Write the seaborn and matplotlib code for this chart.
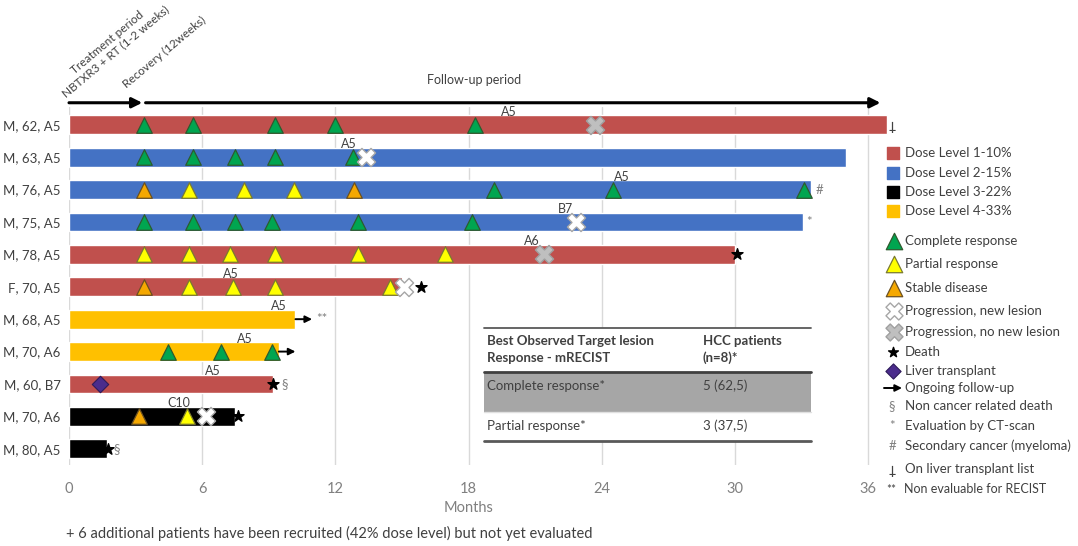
import matplotlib
matplotlib.use("Agg")
import matplotlib.pyplot as plt
import matplotlib.patches as mpatches
import numpy as np
import pandas as pd
import seaborn as sns

# ---------------- data ----------------
patients = ["M, 62, A5", "M, 63, A5", "M, 76, A5", "M, 75, A5", "M, 78, A5", "F, 70, A5",
            "M, 68, A5", "M, 70, A6", "M, 60, B7", "M, 70, A6", "M, 80, A5"]
dose_level = ["Dose Level 1-10%", "Dose Level 2-15%", "Dose Level 2-15%", "Dose Level 2-15%",
              "Dose Level 1-10%", "Dose Level 1-10%", "Dose Level 4-33%", "Dose Level 4-33%",
              "Dose Level 1-10%", "Dose Level 3-22%", "Dose Level 3-22%"]
follow_up_months = [36.85, 35.0, 33.4, 33.05, 30.0, 15.0, 10.2, 9.45, 9.2, 7.5, 1.7]

complete_response = [[3.4, 5.6, 9.3, 12.0, 18.3], [3.4, 5.6, 7.5, 9.3, 12.8], [19.15, 24.5, 33.1],
                     [3.4, 5.6, 7.5, 9.15, 13.0, 18.15], [], [], [], [4.45, 6.85, 9.15], [], [], []]
partial_response = [[], [], [5.4, 7.9, 10.15], [], [3.4, 5.4, 7.25, 9.3, 13.0, 16.95],
                    [5.4, 7.4, 9.3, 14.45], [], [], [], [5.3], []]
stable_disease = [[], [], [3.4, 12.85], [], [], [3.4], [], [], [], [3.15], []]
progression_new = [[], [13.4], [], [22.85], [], [15.1], [], [], [], [6.15], []]
progression_no_new = [[23.7], [], [], [], [21.4], [], [], [], [], [], []]

death_rows = [4, 5, 8, 9, 10]
death_months = [30.1, 15.85, 9.2, 7.6, 1.75]
transplant_rows = [8]
transplant_months = [1.4]
ongoing_rows = [6, 7]

note_rows = [0, 2, 3, 6, 8, 10]
note_months = [37.1, 33.8, 33.35, 11.4, 9.7, 2.15]
note_symbols = ["\u2020", "#", "*", "**", "\u00a7", "\u00a7"]

stage_rows = [0, 1, 2, 3, 4, 5, 6, 7, 8, 9]
stage_months = [19.8, 12.6, 24.9, 22.35, 20.85, 7.3, 9.43, 7.9, 6.5, 4.93]
stage_labels = ["A5", "A5", "A5", "B7", "A6", "A5", "A5", "A5", "A5", "C10"]

month_ticks = [0, 6, 12, 18, 24, 30, 36]

table_header = ["Best Observed Target lesion\nResponse - mRECIST", "HCC patients\n(n=8)*"]
table_rows = [["Complete response*", "5 (62,5)"], ["Partial response*", "3 (37,5)"]]

dose_palette = {"Dose Level 1-10%": "#C0504D", "Dose Level 2-15%": "#4472C4",
                "Dose Level 3-22%": "#000000", "Dose Level 4-33%": "#FFC000"}

# ---------------- styling ----------------
sns.set_style("white")
plt.rcParams["font.family"] = ["Lato", "DejaVu Sans"]
TXT = "#404040"
GREY = "#808080"

fig = plt.figure(figsize=(10.78, 5.46), dpi=100)
ax = fig.add_axes([0.064, 0.1484, 0.7723, 0.6557])

df = pd.DataFrame({"row": list(range(len(patients))), "months": follow_up_months, "dose": dose_level})
sns.barplot(data=df, x="months", y="row", hue="dose", orient="h", palette=dose_palette,
            dodge=False, width=0.58, saturation=1, legend=False, ax=ax, zorder=2)

ax.set_xlim(0, 37.5)
ax.set_ylim(10.5, -0.55)
ax.set_xticks(month_ticks)
ax.set_xticklabels([str(t) for t in month_ticks], color=GREY, fontsize=10.5)
ax.set_yticks(range(len(patients)))
ax.set_yticklabels(patients, color=TXT, fontsize=9.5)
ax.tick_params(axis="x", length=0, pad=12)
ax.tick_params(axis="y", length=0, pad=6)
for s in ax.spines.values():
    s.set_visible(False)
ax.grid(axis="x", color="#D9D9D9", lw=1)
ax.grid(axis="y", visible=False)
ax.set_axisbelow(True)
ax.set_xlabel("Months", color=GREY, fontsize=10.5)
ax.xaxis.set_label_coords(18 / 37.5, -0.1)
ax.set_ylabel("")


def points(series):
    xs, ys = [], []
    for r, vals in enumerate(series):
        for v in vals:
            xs.append(v)
            ys.append(r)
    return xs, ys


tri_kw = dict(marker="^", s=125, linewidths=0.9, zorder=4)
x, y = points(complete_response)
ax.scatter(x, y, c="#00A550", edgecolors="#2E5A2E", **tri_kw)
x, y = points(partial_response)
ax.scatter(x, y, c="#FFFF00", edgecolors="#7A7A30", **tri_kw)
x, y = points(stable_disease)
ax.scatter(x, y, c="#F5A800", edgecolors="#6B5020", **tri_kw)
x, y = points(progression_new)
ax.scatter(x, y, marker="X", s=170, c="white", edgecolors="#A6A6A6", linewidths=1, zorder=5)
x, y = points(progression_no_new)
ax.scatter(x, y, marker="X", s=170, c="#BFBFBF", edgecolors="#A0A0A0", linewidths=1, zorder=5)
ax.scatter(death_months, death_rows, marker="*", s=70, c="black", zorder=6)
ax.scatter(transplant_months, transplant_rows, marker="D", s=70, c="#4B2C8C",
           edgecolors="#2E1A5A", linewidths=0.8, zorder=5)

for r in ongoing_rows:
    end = follow_up_months[r]
    ax.annotate("", xy=(end + 0.75, r), xytext=(end, r),
                arrowprops=dict(arrowstyle="-|>", color="black", lw=1.4, mutation_scale=10,
                                shrinkA=0, shrinkB=0), zorder=6)

for r, m, sym in zip(note_rows, note_months, note_symbols):
    if sym == "\u2020":
        ax.text(m, r, sym, rotation=180, ha="center", va="center", fontsize=10, color=TXT,
                family=["DejaVu Sans"], clip_on=False)
    else:
        ax.text(m, r, sym, ha="center", va="center", fontsize=9.5, color=GREY, clip_on=False)

for r, m, lab in zip(stage_rows, stage_months, stage_labels):
    ax.text(m, r - 0.4, lab, ha="center", va="center", fontsize=9, color=TXT, zorder=7)

# period arrows above the bars
arrow_y = -0.68
ax.annotate("", xy=(3.3, arrow_y), xytext=(0, arrow_y), annotation_clip=False,
            arrowprops=dict(arrowstyle="-|>", color="black", lw=2.2, mutation_scale=15,
                            shrinkA=0, shrinkB=0))
ax.annotate("", xy=(36.55, arrow_y), xytext=(3.45, arrow_y), annotation_clip=False,
            arrowprops=dict(arrowstyle="-|>", color="black", lw=2.2, mutation_scale=15,
                            shrinkA=0, shrinkB=0))
ax.text(18.25, -1.39, "Follow-up period", ha="center", va="center", fontsize=9, color=TXT,
        clip_on=False)
period_kw = dict(rotation=40, rotation_mode="anchor", ha="center", va="bottom",
                 fontsize=8.5, color=TXT, clip_on=False)
ax.text(1.91, -2.41, "Treatment period", **period_kw)
ax.text(2.25, -2.12, "NBTXR3 + RT (1-2 weeks)", **period_kw)
ax.text(2.65, -1.08, "Recovery (12weeks)", rotation=40, rotation_mode="anchor",
        ha="left", va="bottom", fontsize=8.5, color=TXT, clip_on=False)

# response summary table
tx0, tx1 = 18.7, 33.4
ty = [6.27, 7.63, 8.87, 9.76]
ax.add_patch(mpatches.Rectangle((tx0, ty[0]), tx1 - tx0, ty[3] - ty[0], facecolor="white",
                                edgecolor="none", zorder=3))
ax.add_patch(mpatches.Rectangle((tx0, ty[1]), tx1 - tx0, ty[2] - ty[1], facecolor="#A6A6A6",
                                edgecolor="none", zorder=3.1))
ax.plot([tx0, tx1], [ty[0], ty[0]], color="#595959", lw=1.3, zorder=3.2)
ax.plot([tx0, tx1], [ty[1], ty[1]], color="#404040", lw=2.0, zorder=3.2)
ax.plot([tx0, tx1], [ty[2], ty[2]], color="#E0E0E0", lw=1.0, zorder=3.2)
ax.plot([tx0, tx1], [ty[3], ty[3]], color="#595959", lw=2.0, zorder=3.2)
col_x = [18.85, 28.55]
for cx, h in zip(col_x, table_header):
    ax.text(cx, 6.93, h, ha="left", va="center", fontsize=9.5, fontweight="bold", color=TXT,
            zorder=4, linespacing=1.45)
for (c1, c2), yy in zip(table_rows, [8.06, 9.29]):
    ax.text(col_x[0], yy, c1, ha="left", va="center", fontsize=9.5, color=TXT, zorder=4)
    ax.text(col_x[1], yy, c2, ha="left", va="center", fontsize=9.5, color=TXT, zorder=4)

# footnote
fig.text(66 / 1078, 1 - 533 / 546,
         "+ 6 additional patients have been recruited (42% dose level) but not yet evaluated",
         ha="left", va="center", fontsize=10.5, color=TXT)

# legend panel, laid out in pixel units
lax = fig.add_axes([0, 0, 1, 1], facecolor="none")
lax.set_xlim(0, 1078)
lax.set_ylim(546, 0)
lax.axis("off")
lx, tx = 893, 905
dose_names = list(dose_palette.keys())
for name, yy in zip(dose_names, [153, 173, 192, 211]):
    lax.scatter([lx], [yy], marker="s", s=80, c=dose_palette[name])
    lax.text(tx, yy, name, ha="left", va="center", fontsize=9.5, color=TXT)
leg_tri = [("#00A550", "#2E5A2E", "Complete response", 241),
           ("#FFFF00", "#7A7A30", "Partial response", 264),
           ("#F5A800", "#6B5020", "Stable disease", 288)]
for fc, ec, lab, yy in leg_tri:
    lax.scatter([lx + 1], [yy], marker="^", s=140, c=fc, edgecolors=ec, linewidths=0.9)
    lax.text(tx, yy, lab, ha="left", va="center", fontsize=9.5, color=TXT)
lax.scatter([lx + 1], [311], marker="X", s=150, c="white", edgecolors="#A6A6A6", linewidths=1)
lax.text(tx, 311, "Progression, new lesion", ha="left", va="center", fontsize=9.5, color=TXT)
lax.scatter([lx + 1], [332], marker="X", s=150, c="#BFBFBF", edgecolors="#A0A0A0", linewidths=1)
lax.text(tx, 332, "Progression, no new lesion", ha="left", va="center", fontsize=9.5, color=TXT)
lax.scatter([lx], [352], marker="*", s=55, c="black")
lax.text(tx, 352, "Death", ha="left", va="center", fontsize=9.5, color=TXT)
lax.scatter([lx], [371], marker="D", s=60, c="#4B2C8C", edgecolors="#2E1A5A", linewidths=0.8)
lax.text(tx, 371, "Liver transplant", ha="left", va="center", fontsize=9.5, color=TXT)
lax.annotate("", xy=(902, 388), xytext=(884, 388),
             arrowprops=dict(arrowstyle="-|>", color="black", lw=1.4, mutation_scale=10,
                             shrinkA=0, shrinkB=0))
lax.text(tx, 388, "Ongoing follow-up", ha="left", va="center", fontsize=9.5, color=TXT)
leg_notes = [("\u00a7", "Non cancer related death", 406),
             ("*", "Evaluation by CT-scan", 426),
             ("#", "Secondary cancer (myeloma)", 446)]
for sym, lab, yy in leg_notes:
    lax.text(892, yy, sym, ha="center", va="center", fontsize=9.5, color=GREY)
    lax.text(tx, yy, lab, ha="left", va="center", fontsize=9.5, color=TXT)
lax.text(892, 469, "\u2020", rotation=180, ha="center", va="center", fontsize=10, color=TXT,
         family=["DejaVu Sans"])
lax.text(tx, 469, "On liver transplant list", ha="left", va="center", fontsize=9.5, color=TXT)
lax.text(891, 489, "**", ha="center", va="center", fontsize=8.5, color=TXT)
lax.text(tx - 1, 489, "Non evaluable for RECIST", ha="left", va="center", fontsize=9,
         color=TXT)

fig.savefig("out.png", dpi=100)
